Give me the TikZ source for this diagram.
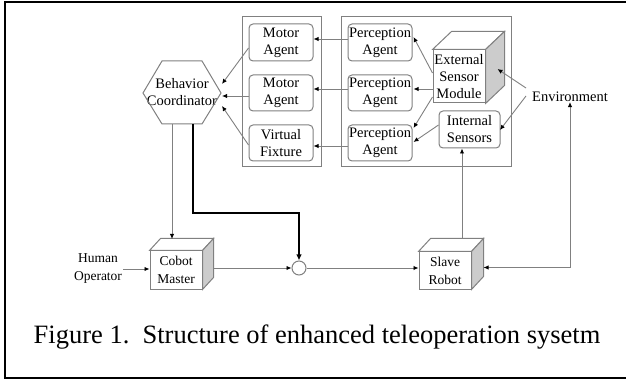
\documentclass[tikz,border=0pt]{standalone}
\usepackage{fontspec}
\setmainfont{Liberation Serif}
\usetikzlibrary{arrows.meta,calc}

\definecolor{linegray}{gray}{0.5}
\definecolor{sidegray}{gray}{0.8}

\tikzset{
  arr/.style={draw=linegray, line width=0.9pt, -{Latex[length=5pt,width=4.5pt,color=black]}},
  agent/.style={draw=linegray, line width=1pt, rounded corners=4pt, align=center,
    minimum width=64pt, minimum height=36pt, inner sep=0pt,
    font=\fontsize{14.5}{17}\selectfont},
  groupbox/.style={draw=linegray, line width=1pt},
  cubefront/.style={draw=linegray, line width=1pt, fill=white, align=center, inner sep=0pt},
  plain/.style={align=center, inner sep=0pt, font=\fontsize{14.5}{17}\selectfont},
}

% cube faces: front-face node name, depth offset x, depth offset y
\newcommand{\cubefaces}[3]{%
  \draw[linegray, line width=1pt, fill=white]
    (#1.north west) -- ++(#2,#3) -- ($(#1.north east)+(#2,#3)$) -- (#1.north east) -- cycle;
  \draw[linegray, line width=1pt, fill=sidegray]
    (#1.north east) -- ++(#2,#3) -- ($(#1.south east)+(#2,#3)$) -- (#1.south east) -- cycle;
}

\begin{document}
\begin{tikzpicture}[x=1pt,y=-1pt]
\useasboundingbox (0,0) rectangle (626,379);

% outer frame
\draw[black, line width=2pt] (630,2) -- (4.5,2) -- (4.5,377.5) -- (630,377.5);

% group boxes
\draw[groupbox] (242,17) rectangle (321,167);
\draw[groupbox] (341,17) rectangle (511,167);

% agents
\node[agent, minimum height=37pt] (m1) at (281,42.5) {Motor\\Agent};
\node[agent] (m2) at (281,93) {Motor\\Agent};
\node[agent] (vf) at (281,143) {Virtual\\Fixture};
\node[agent, minimum height=37pt] (p1) at (380,42.5) {Perception\\Agent};
\node[agent] (p2) at (380,93) {Perception\\Agent};
\node[agent] (p3) at (380,143) {Perception\\Agent};
\node[agent, minimum width=61pt, minimum height=37pt] (is) at (469.5,129.5) {Internal\\Sensors};

% external sensor module (cube)
\node[cubefront, minimum width=52pt, minimum height=53pt,
  font=\fontsize{14.5}{17}\selectfont] (esm) at (459,76.5) {External\\Sensor\\Module};
\cubefaces{esm}{19}{-18}

% behavior coordinator (hexagon)
\node[plain] (bc) at (182,92.5) {Behavior\\Coordinator};
\draw[linegray, line width=1pt]
  ($(bc)+(-39,0.5)$) -- ($(bc)+(-20,-31.5)$) -- ($(bc)+(20,-31.5)$) --
  ($(bc)+(39,0.5)$) -- ($(bc)+(20,31.5)$) -- ($(bc)+(-20,31.5)$) -- cycle;
\coordinate (bcin1) at ($(bc)+(40,-8.5)$);
\coordinate (bcin2) at ($(bc)+(40,3.5)$);
\coordinate (bcin3) at ($(bc)+(40,13.5)$);
\coordinate (bcout1) at ($(bc)+(-10,31.5)$);
\coordinate (bcout2) at ($(bc)+(11,31.5)$);

% environment
\node[plain] (env) at (570,97) {Environment};

% cobot master and slave robot (cubes)
\node[cubefront, minimum width=52pt, minimum height=38pt,
  font=\fontsize{13.5}{18}\selectfont] (cm) at (176,270) {Cobot\\Master};
\cubefaces{cm}{11}{-12}
\node[cubefront, minimum width=52pt, minimum height=37pt,
  font=\fontsize{13.5}{18}\selectfont] (sr) at (445,270.5) {Slave\\Robot};
\cubefaces{sr}{12}{-13}

\node[plain, font=\fontsize{13.5}{18}\selectfont] (ho) at (98,269) {Human\\Operator};
\node[draw=linegray, line width=1pt, circle, minimum size=14pt, inner sep=0pt] (sum) at (299,268) {};

% perception agents to motor agents
\draw[arr] ([yshift=3.5pt]p1.west) -- ([yshift=3.5pt]p1.west -| m1.east);
\draw[arr] ([yshift=4pt]p2.west) -- ([yshift=4pt]p2.west -| m2.east);
\draw[arr] ([yshift=-3pt]p3.west) -- ([yshift=-3pt]p3.west -| vf.east);

% motor agents to behavior coordinator
\draw[arr] ([yshift=-5.5pt]m1.west) -- (bcin1);
\draw[arr] ([yshift=-3pt]m2.west) -- (bcin2);
\draw[arr] ([yshift=-2pt]vf.west) -- (bcin3);

% sensors to perception agents
\draw[arr] ([yshift=3.5pt]esm.west) -- ($(p1.east)+(1,-5.5)$);
\draw[arr] ([yshift=-12.5pt]esm.west) -- ($(p2.east)+(1,-4)$);
\draw[arr] ([yshift=-20.5pt]esm.west) -- ($(p3.east)+(1,-15)$);
\draw[arr] ([yshift=4.5pt]is.west) -- ($(p3.east)+(1,-1)$);

% environment to sensors
\coordinate (envl1) at (526,88);
\coordinate (envl2) at (526,96);
\draw[arr] (envl1) -- ($(esm.east)+(12,-7.5)$);
\draw[arr] (envl2) -- ($(is.east)+(-0.5,0.5)$);

% control loop
\draw[arr] (bcout1) -- (bcout1 |- 0,239);
\draw[black, line width=1.8pt, -{Latex[length=6pt,width=5.5pt]}]
  (bcout2) |- (0,213 -| sum) -- (sum.north);
\draw[arr] ($(ho.east)+(1,0)$) -- (ho.east -| cm.west);
\draw[arr] ($(cm.east)+(11,-2)$) -- (sum.west);
\draw[arr] (sum.east) -- (sum.east -| sr.west);
\draw[arr] (sr.north -| 462,0) ++(0,-13) -- (is.south -| 462,0);
\draw[linegray, line width=0.9pt, {Latex[length=5pt,width=4.5pt,color=black]}-{Latex[length=5pt,width=4.5pt,color=black]}]
  ($(sr.east)+(12,-3)$) -| (env.south);

% caption
\node[inner sep=0pt, font=\fontsize{26.5}{30}\selectfont] (cap) at (317,337)
  {Figure 1.\hspace{0.5em}Structure of enhanced teleoperation sysetm};
\end{tikzpicture}
\end{document}
